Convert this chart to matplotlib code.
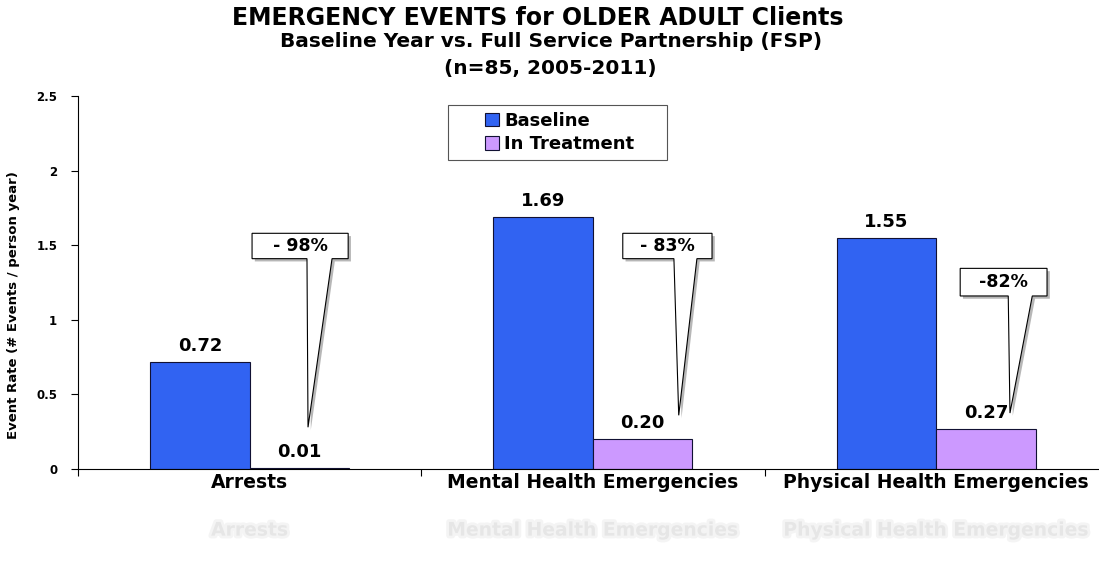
import numpy as np
import matplotlib
matplotlib.use('Agg')
from matplotlib import pyplot as plt
from matplotlib.patches import Polygon, Rectangle
import matplotlib.patheffects as pe

plt.rcParams['font.family'] = ['DejaVu Sans']

# 数据
categories = ['Arrests', 'Mental Health Emergencies', 'Physical Health Emergencies']
baseline = [0.72, 1.69, 1.55]
in_treatment = [0.01, 0.20, 0.27]
value_labels_base = ['0.72', '1.69', '1.55']
value_labels_treat = ['0.01', '0.20', '0.27']
# 减少百分比标注
pct_labels = ['- 98%', '- 83%', '-82%']
# 标注框（相对类别中心的x范围, y范围）以及尖端位置
box_x = [(0.007, 0.287), (0.087, 0.347), (0.070, 0.323)]
box_y = [(1.41, 1.58), (1.41, 1.58), (1.16, 1.345)]
tail_x = [(0.167, 0.240), (0.236, 0.303), (0.210, 0.280)]
tip = [(0.170, 0.28), (0.250, 0.36), (0.215, 0.375)]
yticks = [0, 0.5, 1, 1.5, 2, 2.5]
ytick_labels = ['0', '0.5', '1', '1.5', '2', '2.5']

blue = '#3163F2'
pink = '#CC99FF'
bar_w = 0.29

fig = plt.figure(figsize=(10.99, 5.67), dpi=100)
ax = fig.add_axes([0.071, 0.1728, 0.937, 0.6578])

x = np.arange(len(categories))
b1 = ax.bar(x - bar_w / 2, baseline, bar_w, color=blue, edgecolor='#111133', linewidth=0.8, label='Baseline')
b2 = ax.bar(x + bar_w / 2, in_treatment, bar_w, color=pink, edgecolor='#111133', linewidth=0.8, label='In Treatment')

# 数值标签
for i in range(len(categories)):
    ax.annotate(value_labels_base[i], (x[i] - bar_w / 2, baseline[i]), xytext=(0, 5),
                textcoords='offset points', ha='center', va='bottom', fontsize=13, fontweight='bold')
    ax.annotate(value_labels_treat[i], (x[i] + bar_w / 2, in_treatment[i]), xytext=(0, 5),
                textcoords='offset points', ha='center', va='bottom', fontsize=13, fontweight='bold')

# 标注气泡
for i in range(len(categories)):
    x0, x1 = x[i] + box_x[i][0], x[i] + box_x[i][1]
    y0, y1 = box_y[i]
    tl, tr = x[i] + tail_x[i][0], x[i] + tail_x[i][1]
    tx, ty = x[i] + tip[i][0], tip[i][1]
    verts = [(x0, y1), (x1, y1), (x1, y0), (tr, y0), (tx, ty), (tl, y0), (x0, y0)]
    poly = Polygon(verts, closed=True, facecolor='white', edgecolor='black', linewidth=0.8, zorder=5,
                   path_effects=[pe.withSimplePatchShadow(offset=(2, -2), shadow_rgbFace='#888888', alpha=0.6)])
    ax.add_patch(poly)
    ax.text((x0 + x1) / 2, (y0 + y1) / 2, pct_labels[i], ha='center', va='center',
            fontsize=12.5, fontweight='bold', zorder=6)

ax.set_xlim(-0.5, 2.5)
ax.set_ylim(0, 2.5)
ax.set_yticks(yticks)
ax.set_yticklabels(ytick_labels, fontsize=8.5, fontweight='bold')
ax.set_xticks(x)
ax.set_xticklabels(categories, fontsize=13.5, fontweight='bold')
ax.tick_params(axis='x', length=0, pad=3)
ax.set_xticks([-0.5, 0.5, 1.5], minor=True)
ax.tick_params(axis='x', which='minor', length=5, width=0.8)
ax.tick_params(axis='y', length=5, width=0.8, pad=10)
ax.spines['top'].set_visible(False)
ax.spines['right'].set_visible(False)
ax.set_ylabel('Event Rate (# Events / person year)', fontsize=9.5, fontweight='bold', labelpad=10)
ax.yaxis.set_label_coords(-0.056, 0.44)

# 图例（外框单独画，左右留白较大）
ax.add_patch(Rectangle((0.359, 0.828), 0.213, 0.148, transform=ax.transAxes, facecolor='white',
                       edgecolor='#555555', linewidth=0.8, zorder=6))
leg = ax.legend(loc='center', bbox_to_anchor=(0.468, 0.902), fontsize=13, frameon=False,
                handlelength=0.75, handleheight=0.75, handletextpad=0.3, labelspacing=0.3,
                borderpad=0, borderaxespad=0)
leg.set_zorder(7)
for t in leg.get_texts():
    t.set_fontweight('bold')

# 标题
fig.text(0.489, 0.968, 'EMERGENCY EVENTS for OLDER ADULT Clients', ha='center', va='center',
         fontsize=17, fontweight='bold')
fig.text(0.501, 0.926, 'Baseline Year vs. Full Service Partnership (FSP)', ha='center', va='center',
         fontsize=14.5, fontweight='bold')
fig.text(0.501, 0.879, '(n=85, 2005-2011)', ha='center', va='center', fontsize=14.5, fontweight='bold')

# 底部模糊倒影
for i in range(len(categories)):
    ax.annotate(categories[i], (x[i], 0), xytext=(0, -44), textcoords='offset points',
                ha='center', va='center', fontsize=13.5, fontweight='bold', color='#e6e6e6',
                annotation_clip=False,
                path_effects=[pe.Stroke(linewidth=4, foreground='#f4f4f4'), pe.Normal()])

fig.savefig('out.png', dpi=100)
